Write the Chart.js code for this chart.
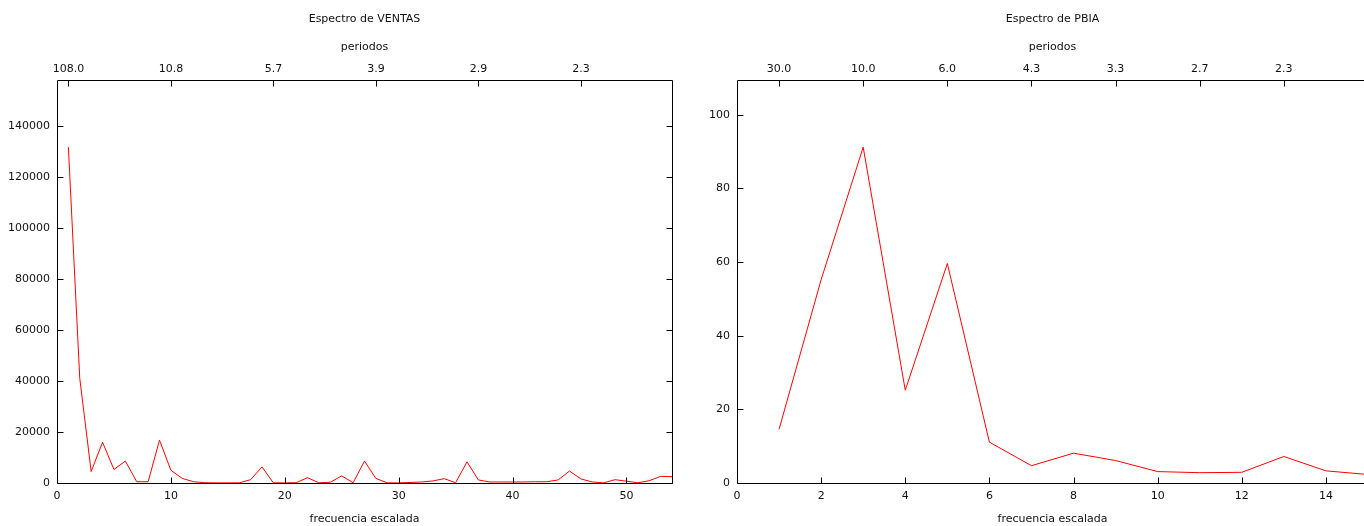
<!DOCTYPE html>
<html><head><meta charset="utf-8">
<script src="https://cdn.jsdelivr.net/npm/chart.js@4/dist/chart.umd.min.js"></script>
<style>
html,body{margin:0;padding:0;overflow:hidden;background:#fff;width:1364px;height:526px;}
#w1{position:absolute;left:0;top:0;width:682px;height:526px;}
#w2{position:absolute;left:682px;top:0;width:690px;height:526px;}
</style></head><body>
<div id="w1"><canvas id="c1"></canvas></div>
<div id="w2"><canvas id="c2"></canvas></div>
<script>
// ---- data: Espectro de VENTAS ----
const ventasFreq = [1,2,3,4,5,6,7,8,9,10,11,12,13,14,15,16,17,18,19,20,21,22,23,24,25,26,27,28,29,30,31,32,33,34,35,36,37,38,39,40,41,42,43,44,45,46,47,48,49,50,51,52,53,54];
const ventasValues = [131700,41000,4500,16000,5300,8600,500,500,16800,5000,1800,500,100,50,50,50,1300,6300,50,50,100,2100,50,300,2800,100,8600,1800,50,50,200,400,800,1700,100,8300,1200,400,400,400,400,500,500,1200,4700,1600,400,50,1300,700,100,900,2600,2500];
const ventasYTicks = [0,20000,40000,60000,80000,100000,120000,140000];
const ventasXTicks = [0,10,20,30,40,50];
const ventasPeriodFreq = [1,10,19,28,37,46];
const ventasPeriodLabels = ['108.0','10.8','5.7','3.9','2.9','2.3'];
const ventasXMax = 54;
const ventasYMax = 158040;

// ---- data: Espectro de PBIA ----
const pbiaFreq = [1,2,3,4,5,6,7,8,9,10,11,12,13,14,15];
const pbiaValues = [14.6,55.2,91.2,25.2,59.6,11.1,4.7,8.1,6.1,3.1,2.8,2.9,7.2,3.3,2.3];
const pbiaYTicks = [0,20,40,60,80,100];
const pbiaXTicks = [0,2,4,6,8,10,12,14];
const pbiaPeriodFreq = [1,3,5,7,9,11,13];
const pbiaPeriodLabels = ['30.0','10.0','6.0','4.3','3.3','2.7','2.3'];
const pbiaXMax = 15;
const pbiaYMax = 109.44;

const FONT = {family:'"DejaVu Sans", Verdana, sans-serif', size:11, weight:'normal'};
const TXT = '#111';

const frame = {
  id:'frame',
  afterDatasetsDraw(chart, args, opts){
    const {ctx, chartArea:a, scales} = chart;
    const L = 6;
    ctx.save();
    ctx.strokeStyle = '#000';
    ctx.lineWidth = 1;
    ctx.beginPath();
    const l = Math.round(a.left)+0.5, r = Math.round(a.right)+0.5, t = Math.round(a.top)+0.5, b = Math.round(a.bottom)+0.5;
    scales.x.ticks.forEach(k=>{const p=Math.round(scales.x.getPixelForValue(k.value))+0.5; ctx.moveTo(p,b); ctx.lineTo(p,b-L);});
    scales.xTop.ticks.forEach(k=>{const p=Math.round(scales.xTop.getPixelForValue(k.value))+0.5; ctx.moveTo(p,t); ctx.lineTo(p,t+L);});
    scales.y.ticks.forEach(k=>{const p=Math.round(scales.y.getPixelForValue(k.value))+0.5; ctx.moveTo(l,p); ctx.lineTo(l+L,p); if(opts.mirror){ctx.moveTo(r,p); ctx.lineTo(r-L,p);}});
    ctx.moveTo(l,t); ctx.lineTo(r,t); ctx.lineTo(r,b); ctx.lineTo(l,b); ctx.lineTo(l,t);
    ctx.stroke();
    ctx.restore();
  }
};

function makeChart(id, title, freq, values, xTicks, yTicks, pFreq, pLabels, xMax, yMax, yWidth, padRight, mirror){
  return new Chart(document.getElementById(id), {
    type:'line',
    data:{datasets:[{data:freq.map((f,i)=>({x:f,y:values[i]})), borderColor:'#ff0000', borderWidth:1, pointRadius:0, tension:0, fill:false}]},
    options:{
      responsive:true, maintainAspectRatio:false, animation:false,
      layout:{padding:{left:0,right:padRight,top:0,bottom:0}},
      plugins:{
        legend:{display:false}, tooltip:{enabled:false}, title:{display:false},
        frame:{mirror:mirror}
      },
      scales:{
        x:{type:'linear', position:'bottom', min:0, max:xMax,
          afterBuildTicks:s=>{s.ticks = xTicks.map(v=>({value:v}));},
          afterFit:s=>{s.height = 43;},
          grid:{display:false, drawTicks:false}, border:{display:false},
          ticks:{color:TXT, font:FONT, padding:7, autoSkip:false, maxRotation:0},
          title:{display:true, text:'frecuencia escalada', color:TXT, font:FONT, padding:{top:0,bottom:0}}
        },
        xTop:{type:'linear', position:'top', min:0, max:xMax,
          afterBuildTicks:s=>{s.ticks = pFreq.map(v=>({value:v}));},
          afterFit:s=>{s.height = 80;},
          grid:{display:false, drawTicks:false}, border:{display:false},
          ticks:{color:TXT, font:FONT, padding:4, autoSkip:false, maxRotation:0,
            callback:(v,i)=>pLabels[i]},
          title:{display:true, text:[title,'','periodos'], color:TXT,
            font:{family:FONT.family, size:11, weight:'normal', lineHeight:'14px'}, padding:{top:12,bottom:0}}
        },
        y:{type:'linear', position:'left', min:0, max:yMax,
          afterBuildTicks:s=>{s.ticks = yTicks.map(v=>({value:v}));},
          afterFit:s=>{s.width = yWidth;},
          grid:{display:false, drawTicks:false}, border:{display:false},
          ticks:{color:TXT, font:FONT, padding:7, autoSkip:false, callback:v=>String(v)}
        }
      }
    },
    plugins:[frame]
  });
}

makeChart('c1','Espectro de VENTAS', ventasFreq, ventasValues, ventasXTicks, ventasYTicks, ventasPeriodFreq, ventasPeriodLabels, ventasXMax, ventasYMax, 57, 10, true);
makeChart('c2','Espectro de PBIA', pbiaFreq, pbiaValues, pbiaXTicks, pbiaYTicks, pbiaPeriodFreq, pbiaPeriodLabels, pbiaXMax, pbiaYMax, 55, 4, false);
</script>
</body></html>
